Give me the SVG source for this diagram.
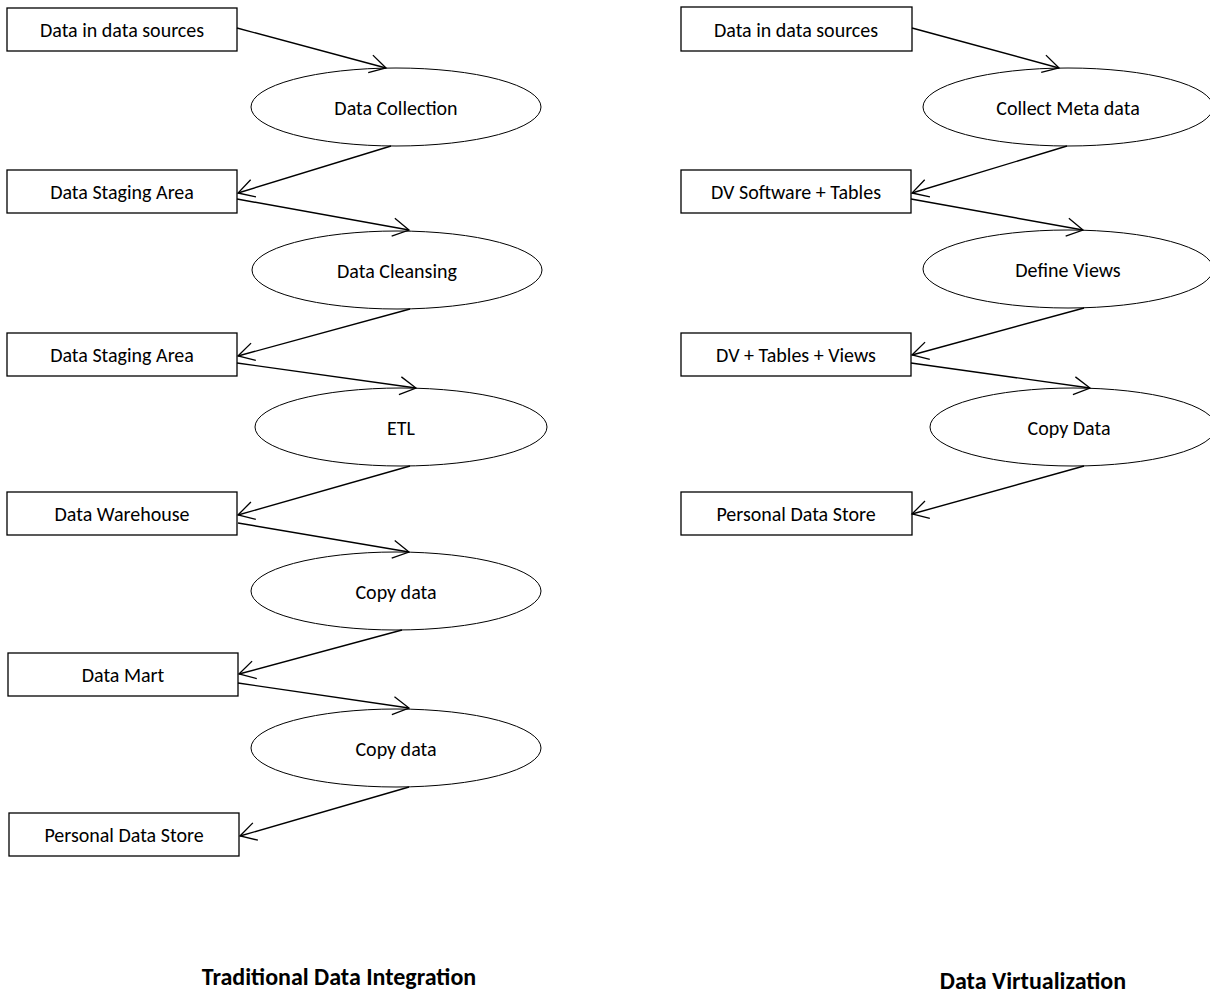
<svg xmlns="http://www.w3.org/2000/svg" width="1210" height="994" viewBox="0 0 1210 994">
<defs>
<marker id="arr" markerUnits="userSpaceOnUse" markerWidth="20" markerHeight="22" viewBox="-2 -2 20 22" refX="16" refY="9" orient="auto">
<path d="M0,0 L16,9 L0,18" fill="none" stroke="#000" stroke-width="1.3"/>
</marker>
</defs>
<style>
.box{fill:#fff;stroke:#000;stroke-width:1.3}
.ell{fill:#fff;stroke:#000;stroke-width:1}
.lbl{font-family:Calibri,Carlito,Lato,"Liberation Sans",sans-serif;font-size:20px;fill:#000;text-anchor:middle}
.ttl{font-family:Calibri,Carlito,Lato,"Liberation Sans",sans-serif;font-size:24px;font-weight:bold;fill:#000;text-anchor:middle}
.con line{stroke:#000;stroke-width:1.4;marker-end:url(#arr)}
</style>
<rect width="1210" height="994" fill="#fff"/>

<g id="l-src"><rect class="box" x="7" y="8" width="230" height="43"/><text class="lbl" x="122" y="37">Data in data sources</text></g>
<g id="l-collect"><ellipse class="ell" cx="396" cy="107" rx="145" ry="39"/><text class="lbl" x="396" y="115">Data Collection</text></g>
<g id="l-stage1"><rect class="box" x="7" y="170" width="230" height="43"/><text class="lbl" x="122" y="199">Data Staging Area</text></g>
<g id="l-cleanse"><ellipse class="ell" cx="397" cy="270" rx="145" ry="39"/><text class="lbl" x="397" y="278">Data Cleansing</text></g>
<g id="l-stage2"><rect class="box" x="7" y="333" width="230" height="43"/><text class="lbl" x="122" y="362">Data Staging Area</text></g>
<g id="l-etl"><ellipse class="ell" cx="401" cy="427" rx="146" ry="39"/><text class="lbl" x="401" y="435">ETL</text></g>
<g id="l-dw"><rect class="box" x="7" y="492" width="230" height="43"/><text class="lbl" x="122" y="521">Data Warehouse</text></g>
<g id="l-copy1"><ellipse class="ell" cx="396" cy="591" rx="145" ry="39"/><text class="lbl" x="396" y="599">Copy data</text></g>
<g id="l-mart"><rect class="box" x="8" y="653" width="230" height="43"/><text class="lbl" x="123" y="682">Data Mart</text></g>
<g id="l-copy2"><ellipse class="ell" cx="396" cy="748" rx="145" ry="39"/><text class="lbl" x="396" y="756">Copy data</text></g>
<g id="l-pds"><rect class="box" x="9" y="813" width="230" height="43"/><text class="lbl" x="124" y="842">Personal Data Store</text></g>

<g id="r-src"><rect class="box" x="681" y="7" width="231" height="44"/><text class="lbl" x="796" y="37">Data in data sources</text></g>
<g id="r-meta"><ellipse class="ell" cx="1068" cy="107" rx="145" ry="39"/><text class="lbl" x="1068" y="115">Collect Meta data</text></g>
<g id="r-dv"><rect class="box" x="681" y="170" width="230" height="43"/><text class="lbl" x="796" y="199">DV Software + Tables</text></g>
<g id="r-views"><ellipse class="ell" cx="1068" cy="269" rx="145" ry="39"/><text class="lbl" x="1068" y="277">Define Views</text></g>
<g id="r-dvtv"><rect class="box" x="681" y="333" width="230" height="43"/><text class="lbl" x="796" y="362">DV + Tables + Views</text></g>
<g id="r-copy"><ellipse class="ell" cx="1073" cy="427" rx="143" ry="39"/><text class="lbl" x="1069" y="435">Copy Data</text></g>
<g id="r-pds"><rect class="box" x="681" y="492" width="231" height="43"/><text class="lbl" x="796" y="521">Personal Data Store</text></g>

<g id="connectors" class="con">
<line x1="237" y1="28" x2="386" y2="68"/>
<line x1="391" y1="146" x2="238" y2="193"/>
<line x1="237" y1="199" x2="409" y2="230"/>
<line x1="410" y1="309" x2="238" y2="356"/>
<line x1="237" y1="363" x2="416" y2="388"/>
<line x1="410" y1="466" x2="238" y2="515"/>
<line x1="238" y1="523" x2="409" y2="552"/>
<line x1="402" y1="630" x2="239" y2="674"/>
<line x1="238" y1="683" x2="409" y2="708"/>
<line x1="409" y1="787" x2="240" y2="836"/>
<line x1="912" y1="28" x2="1059" y2="68"/>
<line x1="1067" y1="146" x2="912" y2="193"/>
<line x1="911" y1="199" x2="1083" y2="230"/>
<line x1="1084" y1="308" x2="912" y2="355"/>
<line x1="911" y1="363" x2="1090" y2="388"/>
<line x1="1084" y1="466" x2="912" y2="514"/>
</g>

<g id="titles">
<text class="ttl" x="339" y="985">Traditional Data Integration</text>
<text class="ttl" x="1033" y="989">Data Virtualization</text>
</g>
</svg>
